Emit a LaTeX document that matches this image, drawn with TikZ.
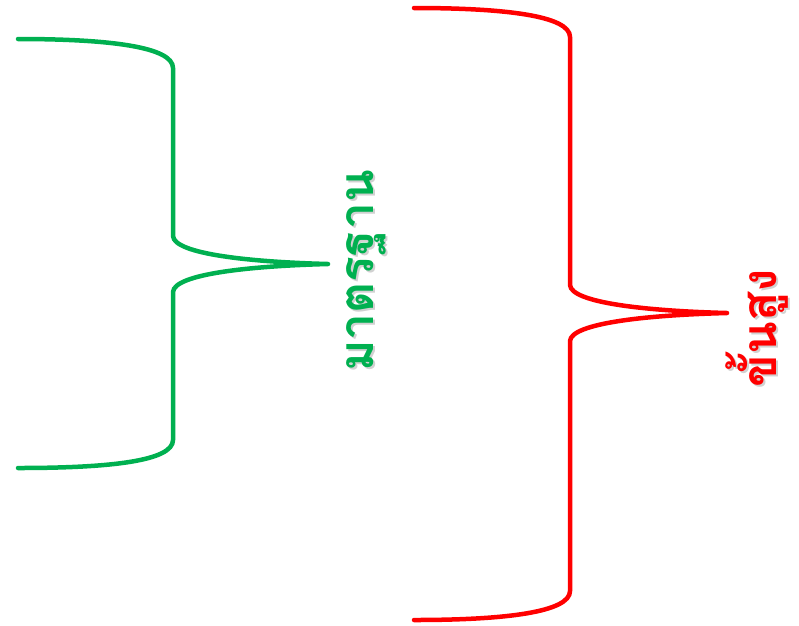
\documentclass[tikz,border=0pt]{standalone}
\usepackage{fontspec}
\newfontfamily\thaifont[Script=Thai]{Loma}
\definecolor{bgreen}{HTML}{00B050}
\definecolor{bred}{HTML}{FF0000}
\begin{document}
\begin{tikzpicture}[x=1pt,y=-1pt,
  brace/.style={line width=4.5pt,line cap=round,line join=round},
  lbl/.style={font=\thaifont\bfseries\fontsize{48}{48}\selectfont,rotate=90,inner sep=0pt},
  shadowlbl/.style={lbl,text=black!18}]
\useasboundingbox (0,0) rectangle (799,625);
% green brace
\coordinate (g1) at (18,39);
\coordinate (g2) at (173,68);
\coordinate (g3) at (173,236);
\coordinate (gt) at (328,264);
\coordinate (g4) at (173,292);
\coordinate (g5) at (173,440);
\coordinate (g6) at (18,468);
\draw[brace,bgreen] (g1) .. controls (110,39) and (173,47) .. (g2) -- (g3)
  .. controls (174,254) and (250,262) .. (gt)
  .. controls (250,266) and (174,274) .. (g4) -- (g5)
  .. controls (173,461) and (110,468) .. (g6);
% red brace
\coordinate (r1) at (414,8);
\coordinate (r2) at (570,37);
\coordinate (r3) at (570,285);
\coordinate (rt) at (727,313);
\coordinate (r4) at (570,341);
\coordinate (r5) at (570,591);
\coordinate (r6) at (414,620);
\draw[brace,bred] (r1) .. controls (506,8) and (570,16) .. (r2) -- (r3)
  .. controls (571,303) and (648,311) .. (rt)
  .. controls (648,315) and (571,323) .. (r4) -- (r5)
  .. controls (570,612) and (506,620) .. (r6);
% labels
\node[shadowlbl] (gs) at (368,273) {มาตรฐาน};
\node[lbl,text=bgreen] (gl) at (366,271) {มาตรฐาน};
\node[shadowlbl] (rs) at (759,330) {ขั้นสูง};
\node[lbl,text=bred] (rl) at (757,328) {ขั้นสูง};
\end{tikzpicture}
\end{document}
